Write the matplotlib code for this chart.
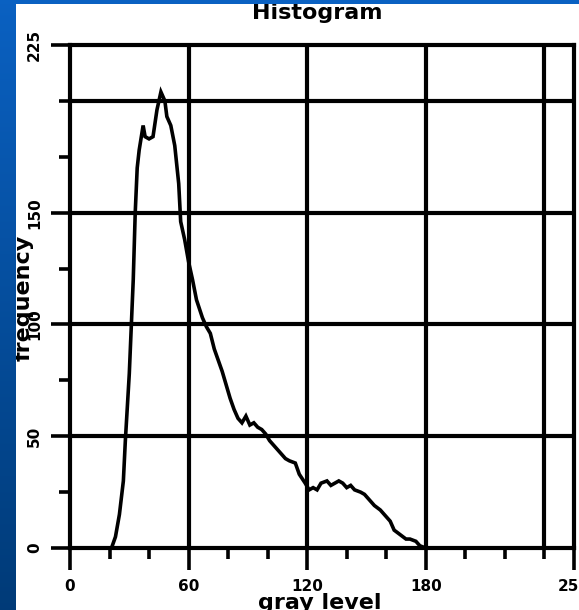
import matplotlib
matplotlib.use("Agg")
import matplotlib.pyplot as plt
import numpy as np

# histogram of gray levels
gray = [21, 23, 25, 27, 28, 30, 32, 33, 34, 35, 37, 38, 40, 42, 44, 46, 48, 49,
        51, 53, 55, 56, 58, 60, 62, 64, 67, 69, 71, 73, 75, 77, 79, 81, 83, 85,
        87, 89, 91, 93, 95, 97, 99, 101, 104, 106, 109, 111, 114, 116, 119,
        121, 123, 125, 127, 130, 132, 134, 136, 138, 140, 142, 144, 147, 149,
        152, 154, 157, 159, 162, 164, 167, 170, 172, 175, 177, 180]
freq = [0, 5, 15, 30, 48, 78, 120, 150, 170, 178, 189, 184, 183, 184, 196, 204,
        200, 193, 189, 180, 163, 146, 138, 128, 120, 111, 103, 99, 96, 89, 84,
        79, 73, 67, 62, 58, 56, 59, 55, 56, 54, 53, 51, 48, 45, 43, 40, 39, 38,
        33, 29, 26, 27, 26, 29, 30, 28, 29, 30, 29, 27, 28, 26, 25, 24, 21, 19,
        17, 15, 12, 8, 6, 4, 4, 3, 1, 0]

x_major = [0, 60, 120, 180, 255]
x_minor = [20, 40, 80, 100, 140, 160, 200, 220, 240]
y_major = [0, 50, 100, 150, 225]
y_minor = [25, 75, 125, 175, 200]
x_grid = [60, 120, 180, 240]
y_grid = [50, 100, 150, 200]

W, H = 579, 610
fig = plt.figure(figsize=(W / 100, H / 100), dpi=100, facecolor="white")
ax = fig.add_axes([70 / W, (H - 548) / H, (574 - 70) / W, (548 - 45) / H])

lw = 3.0
ax.plot(gray, freq, color="black", lw=2.6, solid_joinstyle="miter", zorder=3)
for gx in x_grid:
    ax.axvline(gx, color="black", lw=lw, zorder=2)
for gy in y_grid:
    ax.axhline(gy, color="black", lw=lw, zorder=2)

ax.set_xlim(0, 255)
ax.set_ylim(0, 225)
for s in ax.spines.values():
    s.set_linewidth(lw)
ax.set_xticks(x_major)
ax.set_xticks(x_minor, minor=True)
ax.set_yticks(y_major)
ax.set_yticks(y_minor, minor=True)
ax.set_xticklabels([str(v) for v in x_major], fontsize=11, fontweight="bold")
ax.set_yticklabels([str(v) for v in y_major], fontsize=11, fontweight="bold",
                   rotation=90, va="center")
ax.tick_params(which="major", axis="x", direction="out", length=16, width=2.6, pad=6)
ax.tick_params(which="major", axis="y", direction="out", length=14, width=2.6, pad=6)
ax.tick_params(which="minor", direction="out", length=8, width=2.6)

fig.text(317 / W, 1 - 3 / H, "Histogram", ha="center", va="top",
         fontsize=16, fontweight="bold")
fig.text(320 / W, (H - 593) / H, "gray level", ha="center", va="top",
         fontsize=16, fontweight="bold")
fig.text(24 / W, (H - 298) / H, "frequency", ha="center", va="center",
         rotation=90, fontsize=16, fontweight="bold")

# slide background strips
grad = np.linspace(0, 1, 256).reshape(-1, 1)
top_c = np.array([0.04, 0.38, 0.76])
bot_c = np.array([0.0, 0.23, 0.47])
img = top_c + (bot_c - top_c) * grad[:, :, None]
bl = fig.add_axes([0, 0, 16 / W, 1], zorder=10)
bl.imshow(img, aspect="auto", extent=[0, 1, 0, 1])
bl.axis("off")
bt = fig.add_axes([0, 1 - 4 / H, 1, 4 / H], zorder=10)
bt.set_facecolor(top_c)
bt.set_xticks([])
bt.set_yticks([])
for s in bt.spines.values():
    s.set_visible(False)

fig.savefig("out.png", dpi=100, facecolor="white")
